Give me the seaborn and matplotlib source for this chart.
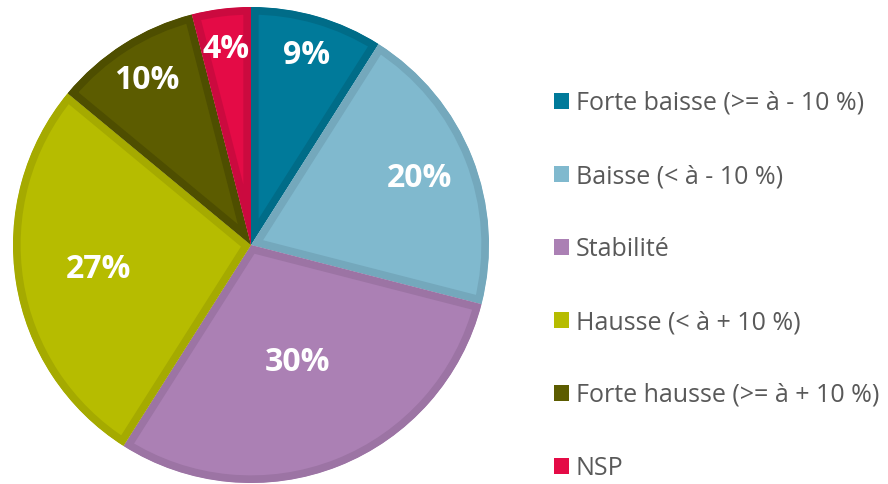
import matplotlib
matplotlib.use("Agg")
import matplotlib.pyplot as plt
from matplotlib.patches import Patch
import numpy as np
import seaborn as sns

# données du graphique
categories = [
    "Forte baisse (>= à - 10 %)",
    "Baisse (< à - 10 %)",
    "Stabilité",
    "Hausse (< à + 10 %)",
    "Forte hausse (>= à + 10 %)",
    "NSP",
]
valeurs = [9, 20, 30, 27, 10, 4]
etiquettes = ["9%", "20%", "30%", "27%", "10%", "4%"]

couleurs = ["#007A9A", "#80B9CE", "#AB80B4", "#B6BC00", "#5C5C00", "#E40B46"]
bordures = ["#006C88", "#74A8BC", "#9C74A4", "#A5AA00", "#4E4E00", "#CB0A3F"]
# distance des étiquettes depuis le centre (fraction du rayon)
dist_etiq = [0.83, 0.76, 0.53, 0.65, 0.82, 0.83]

sns.set_theme(style="white")
plt.rcParams['font.family'] = ['Open Sans', 'DejaVu Sans']

fig = plt.figure(figsize=(8.88, 4.84), dpi=100)
ax = fig.add_axes([13 / 888, 1 / 484, 476 / 888, 476 / 484])

wedges, _ = ax.pie(valeurs, colors=couleurs, startangle=90, counterclock=False,
                   radius=1, wedgeprops=dict(linewidth=0))

# bordure intérieure plus foncée (trait coupé par la part elle-même)
for w, b in zip(wedges, bordures):
    w.set_edgecolor(b)
    w.set_linewidth(11)
    w.set_clip_on(True)
    w.set_clip_path(w)

for w, txt, d in zip(wedges, etiquettes, dist_etiq):
    ang = np.deg2rad((w.theta1 + w.theta2) / 2)
    ax.text(d * np.cos(ang), d * np.sin(ang), txt, ha="center", va="center",
            color="white", fontsize=23, fontweight="bold")

ax.set_xlim(-1, 1)
ax.set_ylim(-1, 1)
ax.set_aspect("equal")
ax.axis("off")

handles = [Patch(facecolor=c, edgecolor="none") for c in couleurs]
leg = fig.legend(handles, categories, loc="upper left",
                 bbox_to_anchor=(544 / 888, 1 - 81 / 484),
                 frameon=False, fontsize=18, handlelength=0.58, handleheight=0.58,
                 handletextpad=0.3, labelspacing=1.92, borderaxespad=0)
for t in leg.get_texts():
    t.set_color("#595959")

fig.savefig("out.png", dpi=100)
